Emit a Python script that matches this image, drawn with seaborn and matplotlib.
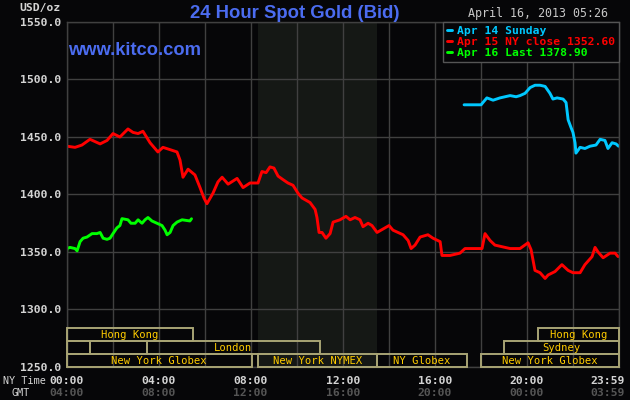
import pandas as pd
import matplotlib
matplotlib.use('Agg')
import matplotlib.pyplot as plt
from matplotlib.patches import Rectangle
import seaborn as sns

# --- data (hours NY time, USD/oz) ---
apr14_hours = [17.27, 18.01, 18.09, 18.26, 18.40, 18.53, 18.83, 19.27, 19.53, 19.70, 19.92,
               20.14, 20.35, 20.57, 20.79, 21.00, 21.13, 21.31, 21.57, 21.70, 21.79, 21.92,
               22.00, 22.09, 22.13, 22.31, 22.52, 22.74, 23.00, 23.18, 23.39, 23.52, 23.70,
               23.87, 23.98]
apr14_price = [1478, 1478, 1480, 1484, 1483, 1482, 1484, 1486, 1485, 1486, 1488,
               1493, 1495, 1495, 1494, 1488, 1483, 1484, 1483, 1480, 1465, 1458,
               1454, 1445, 1436, 1441, 1440, 1442, 1443, 1448, 1447, 1440, 1445,
               1444, 1442]

apr15_hours = [0.02, 0.37, 0.67, 1.02, 1.46, 1.76, 2.02, 2.32, 2.67, 2.89, 3.11, 3.32, 3.63,
               3.97, 4.19, 4.50, 4.80, 4.93, 5.06, 5.28, 5.58, 5.80, 5.97, 6.10, 6.36, 6.58,
               6.76, 7.02, 7.41, 7.67, 7.97, 8.32, 8.49, 8.67, 8.84, 9.01, 9.19, 9.40, 9.62,
               9.84, 10.06, 10.23, 10.58, 10.80, 10.88, 10.97, 11.10, 11.27, 11.45, 11.58,
               11.88, 12.14, 12.32, 12.53, 12.75, 12.88, 13.10, 13.27, 13.49, 13.75, 14.01,
               14.18, 14.40, 14.62, 14.84, 14.97, 15.14, 15.36, 15.70, 15.92, 16.23, 16.31,
               16.66, 17.09, 17.31, 18.05, 18.18, 18.40, 18.61, 18.83, 19.27, 19.70, 20.05,
               20.18, 20.35, 20.57, 20.79, 20.92, 21.22, 21.52, 21.79, 22.00, 22.31, 22.52,
               22.83, 22.96, 23.09, 23.31, 23.61, 23.83, 23.96]
apr15_price = [1442, 1441, 1443, 1448, 1444, 1447, 1453, 1450, 1457, 1454, 1453, 1455, 1445,
               1437, 1441, 1439, 1437, 1430, 1415, 1422, 1417, 1406, 1397, 1392, 1401, 1411,
               1415, 1409, 1414, 1406, 1410, 1410, 1420, 1419, 1424, 1423, 1416, 1413, 1410,
               1408, 1401, 1397, 1393, 1387, 1380, 1367, 1367, 1362, 1366, 1376,
               1378, 1381, 1378, 1380, 1378, 1372, 1375, 1373, 1367, 1370, 1373,
               1369, 1367, 1365, 1360, 1353, 1356, 1363, 1365, 1362, 1359, 1347,
               1347, 1349, 1353, 1353, 1366, 1360, 1356, 1355, 1353, 1353, 1358,
               1352, 1334, 1332, 1327, 1330, 1333, 1339, 1334, 1332, 1332, 1339,
               1346, 1354, 1350, 1345, 1349, 1349, 1346]

apr16_hours = [0.0, 0.02, 0.15, 0.37, 0.46, 0.59, 0.72, 0.89, 1.11, 1.32, 1.46, 1.59, 1.76,
               1.89, 2.02, 2.19, 2.32, 2.41, 2.67, 2.80, 2.98, 3.11, 3.28, 3.41, 3.54, 3.71,
               3.93, 4.15, 4.28, 4.37, 4.50, 4.63, 4.80, 5.02, 5.36, 5.43]
apr16_price = [1349, 1353, 1354, 1353, 1351, 1359, 1362, 1363, 1366, 1366, 1367, 1362, 1361,
               1362, 1366, 1371, 1373, 1379, 1378, 1375, 1375, 1378, 1375, 1378, 1380, 1377,
               1375, 1373, 1369, 1365, 1367, 1373, 1376, 1378, 1377, 1378.9]

series_labels = ['Apr 14 Sunday', 'Apr 15 NY close 1352.60', 'Apr 16 Last 1378.90']
series_colors = ['#00c8ff', '#ff0000', '#00ff00']

# market sessions: name, start hour, end hour, row (0 = top)
session_names = ['Hong Kong', 'Hong Kong', '', '', 'London', 'Sydney',
                 'New York Globex', 'New York NYMEX', 'NY Globex', 'New York Globex']
session_start = [0.0, 20.5, 0.0, 1.0, 3.5, 19.0, 0.0, 8.33, 13.5, 18.0]
session_end = [5.5, 24.0, 1.0, 3.5, 11.0, 24.0, 8.05, 13.5, 17.4, 24.0]
session_row = [0, 0, 1, 1, 1, 1, 2, 2, 2, 2]

tick_hours = [0, 4, 8, 12, 16, 20]
ny_labels = ['00:00', '04:00', '08:00', '12:00', '16:00', '20:00']
gmt_labels = ['04:00', '08:00', '12:00', '16:00', '20:00', '00:00']
y_ticks = [1250, 1300, 1350, 1400, 1450, 1500, 1550]

bg = '#060608'
mono = 'DejaVu Sans Mono'

sns.set_theme(style='dark', rc={'axes.facecolor': bg, 'figure.facecolor': bg})
plt.rcParams['font.family'] = ['DejaVu Sans']

df = pd.concat([
    pd.DataFrame({'hour': apr14_hours, 'price': apr14_price, 'day': series_labels[0]}),
    pd.DataFrame({'hour': apr15_hours, 'price': apr15_price, 'day': series_labels[1]}),
    pd.DataFrame({'hour': apr16_hours, 'price': apr16_price, 'day': series_labels[2]}),
])

fig = plt.figure(figsize=(6.3, 4), dpi=100)
ax = fig.add_axes([66.5 / 630, 1 - 367 / 400, 552.5 / 630, 345 / 400])

# NYMEX floor hours shading
ax.axvspan(8.33, 13.5, color='#151815', zorder=0.2, lw=0)

sns.lineplot(data=df, x='hour', y='price', hue='day', hue_order=series_labels,
             palette=dict(zip(series_labels, series_colors)), estimator=None, sort=False,
             linewidth=2.1, ax=ax)

ax.set_xlim(0, 23.98)
ax.set_ylim(1250, 1550)
ax.set_xticks(range(0, 25, 2))
ax.set_yticks(y_ticks)
ax.set_yticklabels([f'{v:.1f}' for v in y_ticks], family=mono, weight='bold',
                   fontsize=8.2, color='#d4d4d4')
ax.set_xticklabels([])
ax.tick_params(length=0, pad=4)
ax.set_xlabel('')
ax.set_ylabel('')
ax.grid(True, color='#404040', linewidth=1)
ax.set_axisbelow(True)
for s in ax.spines.values():
    s.set_visible(True)
    s.set_color('#404040')
    s.set_linewidth(1)

# market session boxes
row_h = 11.3
for name, x0, x1, r in zip(session_names, session_start, session_end, session_row):
    y0 = 1250 + (2 - r) * row_h
    ax.add_patch(Rectangle((x0, y0), x1 - x0, row_h, fill=False, edgecolor='#a8a474',
                           linewidth=1.4, zorder=3, clip_on=False))
    if name:
        ax.text((x0 + x1) / 2, y0 + row_h / 2, name, ha='center', va='center',
                family=mono, fontsize=7.6, color='#ffcc00', zorder=4)

# legend
handles, labels = ax.get_legend_handles_labels()
leg = ax.legend(handles, labels, loc='upper right', borderaxespad=0, frameon=True,
                fancybox=False, edgecolor='#555555', facecolor=bg, framealpha=1,
                handlelength=0.45, handletextpad=0.4, borderpad=0.35, labelspacing=0.1,
                prop={'family': mono, 'weight': 'bold', 'size': 8.2})
leg.get_frame().set_linewidth(1)
for t, c in zip(leg.get_texts(), series_colors):
    t.set_color(c)

# time axis labels
xt = ax.get_xaxis_transform()
for h, a, b in zip(tick_hours, ny_labels, gmt_labels):
    ax.text(h, -0.041, a, transform=xt, ha='center', va='center', family=mono,
            weight='bold', fontsize=8.2, color='#d4d4d4')
    ax.text(h, -0.075, b, transform=xt, ha='center', va='center', family=mono,
            weight='bold', fontsize=8.2, color='#555555')
ax.text(1.011, -0.041, '23:59', transform=ax.transAxes, ha='right', va='center',
        family=mono, weight='bold', fontsize=8.2, color='#d4d4d4')
ax.text(1.011, -0.075, '03:59', transform=ax.transAxes, ha='right', va='center',
        family=mono, weight='bold', fontsize=8.2, color='#555555')
fig.text(3 / 630, 1 - 381 / 400, 'NY Time', ha='left', va='center', family=mono,
         fontsize=7.3, color='#d4d4d4')
fig.text(21 / 630, 1 - 393 / 400, 'GMT', ha='center', va='center', family=mono,
         fontsize=7.3, color='#d4d4d4')
fig.text(61 / 630, 1 - 8 / 400, 'USD/oz', ha='right', va='center', family=mono,
         weight='bold', fontsize=8.2, color='#d4d4d4')

# header texts
fig.text(295 / 630, 1 - 17.5 / 400, '24 Hour Spot Gold (Bid)', ha='center', va='baseline',
         family='Liberation Sans', weight='bold', fontsize=13.3, color='#4b6cf0')
fig.text(68 / 630, 1 - 55 / 400, 'www.kitco.com', ha='left', va='baseline',
         family='Liberation Sans', weight='bold', fontsize=13.2, color='#4b6cf0')
fig.text(608 / 630, 1 - 14 / 400, 'April 16, 2013 05:26', ha='right', va='center',
         family=mono, fontsize=8.4, color='#c8c8c8')

fig.savefig('out.png', dpi=100, facecolor=bg)
